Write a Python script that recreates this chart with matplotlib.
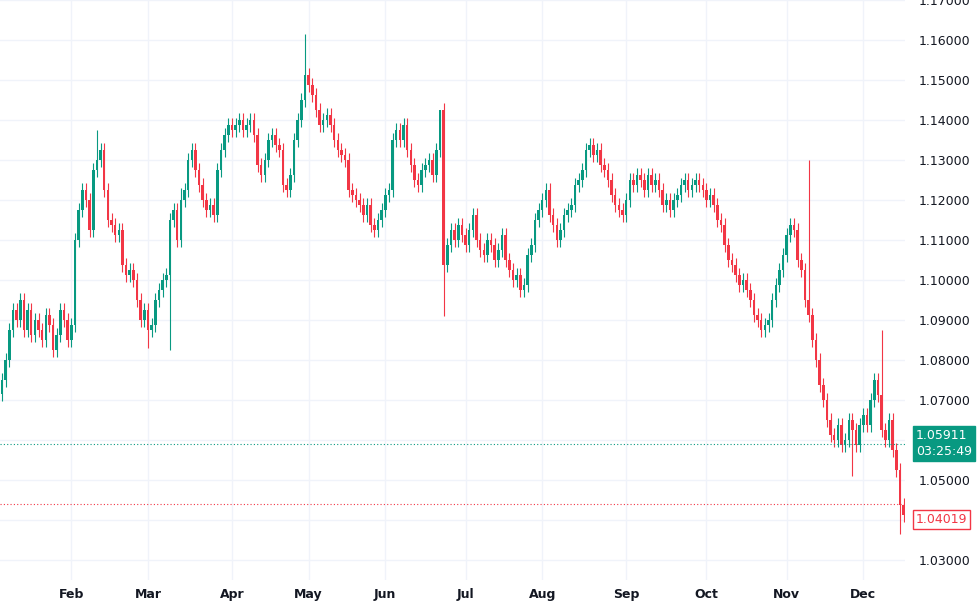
import matplotlib
matplotlib.use("Agg")
import matplotlib.pyplot as plt
from matplotlib.patches import Rectangle

# daily closes
closes = [
    1.075, 1.080, 1.0875, 1.0925, 1.090, 1.095, 1.0875, 1.0925, 1.08625, 1.090,
    1.0875, 1.085, 1.09125, 1.08875, 1.0825, 1.08625, 1.0925, 1.090, 1.085, 1.08875,
    1.11, 1.1175, 1.1225, 1.12, 1.1125, 1.1275, 1.13, 1.1325, 1.1225, 1.115,
    1.11375, 1.11125, 1.1125, 1.10375, 1.10125, 1.1025, 1.10, 1.095, 1.09, 1.0925,
    1.0875, 1.08875, 1.095, 1.0975, 1.10, 1.10125, 1.115, 1.1175, 1.11, 1.12,
    1.1225, 1.13, 1.1325, 1.1275, 1.12375, 1.12, 1.1175, 1.11875, 1.11625, 1.1275,
    1.1325, 1.13625, 1.13875, 1.1375, 1.13875, 1.14, 1.1375, 1.13875, 1.14, 1.13625,
    1.12875, 1.12625, 1.13, 1.135, 1.13625, 1.13375, 1.1325, 1.12375, 1.1225, 1.12625,
    1.135, 1.14, 1.145, 1.15125, 1.14875, 1.14625, 1.1425, 1.13875, 1.14, 1.14125,
    1.13875, 1.135, 1.1325, 1.13125, 1.13, 1.1225, 1.12125, 1.12, 1.11875, 1.11625,
    1.11875, 1.11375, 1.1125, 1.115, 1.1175, 1.12125, 1.1225, 1.135, 1.1375, 1.135,
    1.13875, 1.1325, 1.12875, 1.125, 1.12375, 1.1275, 1.12875, 1.13, 1.12625, 1.1325,
    1.1425, 1.10375, 1.10875, 1.1125, 1.11, 1.11375, 1.11125, 1.10875, 1.1125, 1.11625,
    1.11, 1.1075, 1.10625, 1.11, 1.10875, 1.105, 1.1075, 1.11125, 1.105, 1.1025,
    1.10, 1.10125, 1.0975, 1.09875, 1.10625, 1.10875, 1.115, 1.1175, 1.12, 1.1225,
    1.11625, 1.11375, 1.11, 1.1125, 1.11625, 1.1175, 1.11875, 1.12375, 1.125, 1.1275,
    1.1325, 1.13375, 1.13125, 1.1325, 1.12875, 1.1275, 1.125, 1.12125, 1.11875, 1.1175,
    1.11625, 1.12, 1.125, 1.12375, 1.12625, 1.125, 1.1225, 1.12625, 1.12375, 1.125,
    1.1225, 1.11875, 1.12, 1.1175, 1.12, 1.12125, 1.12375, 1.125, 1.1225, 1.12375,
    1.125, 1.12375, 1.1225, 1.12, 1.12125, 1.11875, 1.115, 1.11375, 1.10875, 1.105,
    1.10375, 1.10125, 1.09875, 1.10, 1.0975, 1.095, 1.09125, 1.09, 1.0875, 1.08875,
    1.09, 1.095, 1.09875, 1.1025, 1.10625, 1.11125, 1.11375, 1.1125, 1.105, 1.1025,
    1.095, 1.09125, 1.085, 1.08, 1.07375, 1.07, 1.065, 1.06125, 1.06, 1.06375,
    1.05875, 1.06, 1.065, 1.0625, 1.05875, 1.06375, 1.06625, 1.06375, 1.07, 1.075,
    1.07125, 1.0625, 1.06, 1.065, 1.0575, 1.0525, 1.04375, 1.04125,
]
first_open = 1.0715
# notable wick extremes: candle index -> price
high_spikes = {83: 1.1615, 120: 1.1425, 221: 1.1300, 241: 1.0875, 49: 1.1230, 26: 1.1375}
low_spikes = {121: 1.0910, 46: 1.0825, 246: 1.0365, 233: 1.0510, 40: 1.0830}
wick_pad = 0.0018

month_labels = ["Feb", "Mar", "Apr", "May", "Jun", "Jul", "Aug", "Sep", "Oct", "Nov", "Dec"]
month_starts = [19, 40, 63, 84, 105, 127, 148, 171, 193, 215, 236]
yticks = [1.03, 1.04, 1.05, 1.06, 1.07, 1.08, 1.09, 1.10, 1.11, 1.12, 1.13, 1.14, 1.15, 1.16, 1.17]

last_price = 1.05911
countdown = "03:25:49"
red_level = 1.0440
red_label = 1.04019

GREEN = "#089981"
RED = "#f23645"

fig = plt.figure(figsize=(9.8, 6.07), dpi=100)
ax = fig.add_axes([0, 27 / 607, 905 / 980, 580 / 607])

opens = [first_open] + closes[:-1]
for i, (o, c) in enumerate(zip(opens, closes)):
    col = GREEN if c >= o else RED
    hi = high_spikes.get(i, max(o, c) + wick_pad)
    lo = low_spikes.get(i, min(o, c) - wick_pad)
    ax.vlines(i, lo, hi, color=col, lw=0.8)
    body = max(abs(c - o), 0.0003)
    ax.add_patch(Rectangle((i - 0.35, min(o, c)), 0.7, body, color=col, lw=0))

ax.set_xlim(-0.55, -0.55 + 905 / 3.65)
ax.set_ylim(1.025, 1.17)
for s in ax.spines.values():
    s.set_visible(False)
ax.set_yticks(yticks)
ax.set_xticks(month_starts)
ax.set_xticklabels(month_labels, fontsize=9, fontweight="bold", color="#131722")
ax.yaxis.tick_right()
ax.set_yticklabels(["%.5f" % v for v in yticks], fontsize=9, color="#131722")
ax.tick_params(length=0, pad=10)
ax.tick_params(axis="x", pad=6)
ax.grid(color="#f0f3fa", lw=1)
ax.set_axisbelow(True)

ax.axhline(last_price, color=GREEN, ls=(0, (1, 2)), lw=0.8)
ax.axhline(red_level, color=RED, ls=(0, (1, 2)), lw=0.8)

ax.text(1.012, last_price, "%.5f\n%s" % (last_price, countdown), transform=ax.get_yaxis_transform(),
        ha="left", va="center", fontsize=9, color="white", linespacing=1.3,
        bbox=dict(boxstyle="square,pad=0.25", fc=GREEN, ec=GREEN))
ax.text(1.012, red_label, "%.5f" % red_label, transform=ax.get_yaxis_transform(),
        ha="left", va="center", fontsize=9, color=RED,
        bbox=dict(boxstyle="square,pad=0.25", fc="white", ec=RED))

fig.savefig("out.png", dpi=100)
